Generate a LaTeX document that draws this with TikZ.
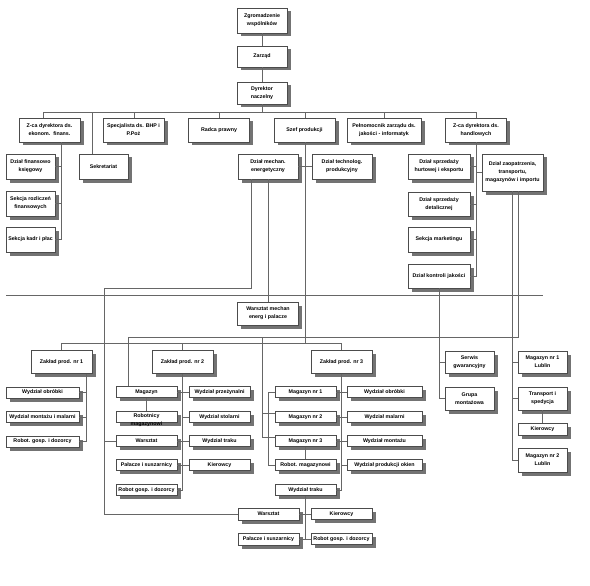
\documentclass[tikz,border=0pt]{standalone}
\usepackage{fontspec}
\setmainfont{Liberation Sans}
\usetikzlibrary{shadows}
\begin{document}
\begin{tikzpicture}[x=1pt, y=-1pt,
    txt/.style={font=\bfseries\fontsize{5.3}{8}\selectfont, align=center, inner sep=0pt},
    box/.style={txt, draw=black!70, fill=white, line width=0.4pt,
        minimum width=61pt, minimum height=24pt,
        drop shadow={shadow xshift=3.5pt, shadow yshift=-3.5pt, fill=black!55, opacity=1}},
    narrow/.style={box, minimum width=49pt},
    flat/.style={box, minimum height=11pt},
    wire/.style={draw=black!60, line width=0.4pt}]
    \useasboundingbox (0,0) rectangle (590,586);

    % Management
    \node[box, minimum width=50pt, minimum height=25pt] (zgr) at (262,20.5) {Zgromadzenie\\wspólników};
    \node[box, minimum width=50pt, minimum height=21pt] (zarz) at (262,56.5) {Zarząd};
    \node[box, minimum width=50pt, minimum height=22pt] (dyr) at (262,93) {Dyrektor\\naczelny};

    % Second level
    \node[box] (zce) at (49.5,130) {Z-ca dyrektora ds.\\ekonom.\ \ finans.};
    \node[box] (bhp) at (133.5,130) {Specjalista ds. BHP i\\P.Poż};
    \node[box] (radca) at (219,130) {Radca prawny};
    \node[box] (szef) at (304.5,130) {Szef produkcji};
    \node[box, minimum width=74pt] (pel) at (384,130) {Pełnomocnik zarządu ds.\\jakości - informatyk};
    \node[box] (zch) at (476,130) {Z-ca dyrektora ds.\\handlowych};

    % Finance and office
    \node[narrow, minimum height=25pt] (fk) at (30.5,166.5) {Dział finansowo\\księgowy};
    \node[narrow, minimum height=25pt] (sr) at (30.5,203.5) {Sekcja rozliczeń\\finansowych};
    \node[narrow, minimum height=25pt] (skp) at (30.5,239.5) {Sekcja kadr i płac};
    \node[narrow, minimum height=25pt] (sekr) at (103.5,166.5) {Sekretariat};

    % Production departments
    \node[box, minimum width=60pt, minimum height=25pt] (dme) at (268,166.5) {Dział mechan.\\energetyczny};
    \node[box, minimum width=60pt, minimum height=25pt] (dtp) at (342,166.5) {Dział technolog.\\produkcyjny};
    \node[box, minimum height=23pt] (wme) at (268,313.5) {Warsztat mechan\\energ i palacze};

    % Sales and supply
    \node[box, minimum width=62pt, minimum height=25pt] (dsh) at (439,166.5) {Dział sprzedaży\\hurtowej i eksportu};
    \node[box, minimum width=62pt] (dsd) at (439,204) {Dział sprzedaży\\detalicznej};
    \node[box, minimum width=62pt, minimum height=25pt] (smk) at (439,239.5) {Sekcja marketingu};
    \node[box, minimum width=62pt] (dkj) at (439,276) {Dział kontroli jakości};
    \node[box, minimum height=37pt] (dzt) at (512.5,172.5) {Dział zaopatrzenia,\\transportu,\\magazynów i importu};

    % Plants
    \node[box, minimum height=23pt] (zp1) at (61.5,362) {Zakład prod. nr 1};
    \node[box, minimum height=23pt] (zp2) at (182.5,362) {Zakład prod. nr 2};
    \node[box, minimum height=23pt] (zp3) at (341.5,362) {Zakład prod. nr 3};

    % Plant 1
    \foreach \n/\y/\t in {z1a/392.5/Wydział obróbki, z1b/417/Wydział montażu i malarni, z1c/441.5/Robot. gosp. i dozorcy}
        \node[flat, minimum width=73pt] (\n) at (42.5,\y) {\t};

    % Plant 2
    \node[flat] (z2a) at (146.5,392) {Magazyn};
    \node[flat] (z2b) at (146.5,417) {};
    \node[txt] at ([yshift=-3pt]z2b.center) {Robotnicy\\magazynowi};
    \foreach \n/\y/\t in {z2c/441/Warsztat, z2d/465/Pałacze i suszarnicy, z2e/490/Robot gosp. i dozorcy}
        \node[flat] (\n) at (146.5,\y) {\t};
    \foreach \n/\y/\t in {z2f/392/Wydział przeżynalni, z2g/417/Wydział stolarni, z2h/441/Wydział traku, z2i/465/Kierowcy}
        \node[flat] (\n) at (219.5,\y) {\t};

    % Plant 3
    \foreach \n/\y/\t in {z3a/392/Magazyn nr 1, z3b/417/Magazyn nr 2, z3c/441/Magazyn nr 3, z3d/465/Robot. magazynowi, z3e/490/Wydział traku}
        \node[flat] (\n) at (305.5,\y) {\t};
    \foreach \n/\y/\t in {z3f/392/Wydział obróbki, z3g/417/Wydział malarni, z3h/441/Wydział montażu, z3i/465/Wydział produkcji okien}
        \node[flat, minimum width=75pt] (\n) at (384.5,\y) {\t};
    \node[flat, minimum height=12pt] (wb) at (268.5,514) {Warsztat};
    \node[flat, minimum height=12pt] (pb) at (268.5,539) {Pałacze i suszarnicy};
    \node[flat] (kb) at (341.5,514) {Kierowcy};
    \node[flat] (rb) at (341.5,539) {Robot gosp. i dozorcy};

    % Service and warehouses
    \node[narrow, minimum height=22pt] (sg) at (469.5,362) {Serwis\\gwarancyjny};
    \node[narrow, minimum height=23pt] (gm) at (469.5,398.5) {Grupa\\montażowa};
    \node[narrow, minimum height=22pt] (ml1) at (542.5,362) {Magazyn nr 1\\Lublin};
    \node[narrow, minimum height=23pt] (ts) at (542.5,398.5) {Transport i\\spedycja};
    \node[narrow, minimum height=12pt] (kl) at (542.5,429) {Kierowcy};
    \node[narrow] (ml2) at (542.5,460) {Magazyn nr 2\\Lublin};

    % Junctions
    \coordinate (busL) at (43,112);
    \coordinate (busR) at (476,112);
    \coordinate (ek) at (61,0);
    \coordinate (zb) at (0,343);
    \coordinate (mk) at (104,288);
    \coordinate (zr) at (518,337);
    \coordinate (zl) at (128,337);
    \coordinate (zm) at (262,337);
    \coordinate (bk) at (268,0);
    \coordinate (k1) at (86,0);

    % Top connectors
    \draw[wire] (zgr) -- (zarz);
    \draw[wire] (zarz) -- (dyr);
    \draw[wire] (dyr) -- (dyr |- busL);
    \draw[wire] (busL) -- (busR);
    \foreach \n/\x in {zce/43, bhp/134, radca/219, szef/305, pel/384, zch/476, sekr/92}
        \draw[wire] (\n.north -| \x,0) -- (\x,0 |- busL);

    % Finance
    \draw[wire] (zce.south -| ek) |- (skp);
    \foreach \n in {fk, sr}
        \draw[wire] (\n) -- (\n -| ek);

    % Production
    \draw[wire] (szef.south -| 305,0) -- (305,0 |- zb);
    \draw[wire] (dme) -- (dtp);
    \draw[wire] (dme) -- (wme);
    \draw[wire] (dme.south -| 251,0) |- (mk) |- (wb);
    \draw[wire] (z2c) -- (z2c -| mk);
    \draw[wire] (6,295) -- (543,295);

    % Sales
    \draw[wire] (zch) |- (dkj);
    \foreach \n in {dsh, dsd, smk, dzt}
        \draw[wire] (\n) -- (\n -| zch);
    \draw[wire] (dkj) |- (gm);
    \draw[wire] (sg) -- (sg -| dkj);
    \draw[wire] (dzt) |- (ml2);
    \foreach \n in {ml1, ts}
        \draw[wire] (\n) -- (\n -| dzt);
    \draw[wire] (ts) -- (kl);
    \draw[wire] (dzt.south -| zr) -- (zr) -- (zl) -- (z2a.north -| zl);
    \draw[wire] (zm) |- ([yshift=-1.5pt]z3c.north west);
    \draw[wire] ([yshift=-1.5pt]z3b.north west) -| (zm);

    % Plants
    \draw[wire] (zp1) |- (zp3.north |- zb) -- (zp3);
    \draw[wire] (zp2) -- (zp2 |- zb);
    \draw[wire] (zp1.south -| k1) |- (z1c);
    \foreach \n in {z1a, z1b}
        \draw[wire] (\n) -- (\n -| k1);
    \draw[wire] (zp2) |- (z2e);
    \draw[wire] (z2a) -- (z2f);
    \draw[wire] (z2c) -- (z2h);
    \draw[wire] (z2d) -- (z2i);
    \draw[wire] (z2g) -- (z2g -| zp2);
    \draw[wire] (z2a) -- (z2b);
    \draw[wire] (zp3) |- (z3e);
    \draw[wire] (z3a) -- (z3f);
    \draw[wire] (z3b) -- (z3g);
    \draw[wire] (z3c) -- (z3h);
    \draw[wire] (z3i) -- (z3i -| zp3);
    \draw[wire] (z3c) -- (z3d);
    \draw[wire] (z3a) -- (z3a -| bk) |- (z3d);
    \draw[wire] (z3e) -- (z3e |- pb);
    \draw[wire] (wb) -- (kb);
    \draw[wire] (pb) -- (rb);
\end{tikzpicture}
\end{document}
